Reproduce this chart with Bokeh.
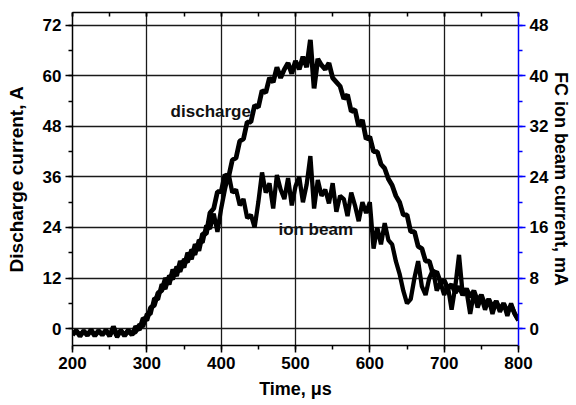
import numpy as np
from bokeh.plotting import figure
from bokeh.models import (Range1d, LinearAxis, SingleIntervalTicker, Label)
from bokeh.embed import file_html
from bokeh.resources import INLINE

# Time axis, microseconds (sampled every 5 us)
time_us = np.arange(200, 801, 5)

# Discharge current, A (noise band included)
discharge_A = [
    -1.5, -0.5, -1.8, -0.6, -1.6, -0.4, -1.7, -0.5, -1.5, -0.3,
    -1.8, 0.5, -1.6, -0.4, -1.7, -0.5, -1.5, 0.5, -0.3, 2.5,
    2, 5, 5.5, 8.5, 9, 12, 10.5, 14, 12.5, 16,
    14.5, 18, 16.5, 20, 18.5, 22.5, 22.5, 27.5, 28.5, 32.5,
    32.5, 36.5, 36, 40, 40.5, 44.5, 45, 49, 49, 53,
    52.5, 56.5, 56, 59.5, 58.5, 62, 59.5, 61.5, 63, 60.5,
    63.5, 61.5, 64.5, 62, 68.5, 57, 64, 62.5, 61.5, 63,
    59.5, 58.5, 57.5, 54.5, 55.5, 51.5, 52, 48, 49.5, 45,
    45.5, 42, 42, 39, 38, 35.5, 34, 31.5, 30, 27,
    27, 23, 23, 19.5, 19, 16, 16, 13, 13.5, 11,
    11.5, 9.5, 10.5, 8.5, 10, 8, 9.5, 7.5, 9, 6.5,
    8, 5.5, 7, 5, 6.5, 4.5, 6, 4, 5.5, 3.5,
    2,
]

# FC ion beam current, mA (noise band included)
ion_beam_mA = [
    -0.87, -0.27, -1.0, -0.33, -0.93, -0.13, -1.07, -0.33, -0.87, -0.4,
    -1.0, -0.13, -1.33, -0.33, -0.93, -0.2, -0.8, -0.53, 0.67, 0.33,
    2.3, 2.3, 4.8, 4.6, 7.0, 6.3, 8.4, 7.8, 9.8, 9.0,
    11.0, 10.5, 12.5, 11.7, 14.0, 13.6, 16.3, 15.8, 18.2, 15.3,
    19.0, 22.0, 24.5, 21.5, 22.0, 19.5, 20.5, 17.5, 18.0, 16.0,
    20.0, 24.7, 21.5, 23.0, 19.0, 24.3, 22.0, 20.5, 23.8, 19.5,
    22.5, 24.0, 20.0, 22.8, 27.3, 19.0, 23.5, 21.0, 22.0, 19.8,
    23.0, 18.5, 21.0, 20.5, 17.8, 21.5, 19.5, 17.0, 20.0, 18.3,
    20.0, 12.67, 16.0, 13.33, 16.67, 14.0, 13.33, 10.67, 8.67, 6.0,
    4.0, 4.67, 8.0, 10.67, 6.67, 5.33, 8.0, 9.33, 6.0, 7.33,
    5.33, 6.67, 3.0, 6.67, 11.67, 5.33, 6.0, 2.33, 5.67, 3.33,
    5.0, 3.0, 4.67, 2.33, 4.33, 2.67, 4.0, 2.0, 4.0, 2.33,
    1.33,
]

FONT = "Liberation Sans"
TICK_SIZE = "17px"

p = figure(width=576, height=405, x_range=Range1d(200, 800),
           y_range=Range1d(-4, 75), output_backend="svg",
           toolbar_location=None, x_axis_location=None, y_axis_location=None)
p.extra_y_ranges = {"fc": Range1d(-4 / 1.5, 75 / 1.5)}
p.min_border_left = 72
p.min_border_right = 58
p.min_border_top = 12
p.min_border_bottom = 60
p.outline_line_color = None
p.background_fill_color = "white"
p.border_fill_color = "white"

def style_axis(ax, color="black", title_size="18px"):
    ax.axis_line_color = color
    ax.axis_line_width = 1.5
    ax.major_tick_line_color = color
    ax.minor_tick_line_color = color
    ax.major_tick_line_width = 1.5
    ax.minor_tick_line_width = 1.5
    ax.major_tick_out = 7
    ax.major_tick_in = 0
    ax.minor_tick_out = 4
    ax.minor_tick_in = 0
    ax.major_label_text_font = FONT
    ax.major_label_text_font_style = "bold"
    ax.major_label_text_font_size = TICK_SIZE
    ax.major_label_text_color = "black"
    ax.major_label_standoff = 4
    ax.axis_label_text_font = FONT
    ax.axis_label_text_font_style = "bold"
    ax.axis_label_text_font_size = title_size
    ax.axis_label_text_color = "black"

xticker = SingleIntervalTicker(interval=100, num_minor_ticks=2)
yticker = SingleIntervalTicker(interval=12, num_minor_ticks=2)
rticker = SingleIntervalTicker(interval=8, num_minor_ticks=2)

xb = LinearAxis(ticker=xticker, axis_label="Time, \u03bcs")
style_axis(xb)
xb.axis_label_standoff = 7
xb.axis_label_text_baseline = "middle"
p.add_layout(xb, "below")

xt = LinearAxis(ticker=xticker)
style_axis(xt)
xt.major_tick_out = 0
xt.minor_tick_out = 0
xt.major_tick_in = 4
xt.minor_tick_in = 4
xt.major_label_text_font_size = "0px"
xt.major_label_text_color = None
p.add_layout(xt, "above")

yl = LinearAxis(ticker=yticker, axis_label="Discharge current, A")
style_axis(yl, title_size="19px")
yl.axis_label_standoff = 13
p.add_layout(yl, "left")

yr = LinearAxis(ticker=rticker, y_range_name="fc",
                axis_label="FC ion beam current, mA")
style_axis(yr, color="#0000ff")
yr.major_label_text_color = "black"
yr.axis_label_standoff = 0
yr.axis_label_text_baseline = "middle"
p.add_layout(yr, "right")

p.xgrid.ticker = xticker
p.ygrid.ticker = yticker
p.grid.grid_line_color = "#1a1a1a"
p.grid.grid_line_width = 1.3

p.line(time_us, discharge_A, line_color="black", line_width=4.8)
p.line(time_us, ion_beam_mA, line_color="black", line_width=4.3,
       y_range_name="fc")

p.add_layout(Label(x=332, y=51.6, text="discharge", text_font=FONT,
                   text_font_style="bold", text_font_size="17px",
                   text_color="#111111", text_baseline="alphabetic"))
p.add_layout(Label(x=477, y=23.6, text="ion beam", text_font=FONT,
                   text_font_style="bold", text_font_size="17px",
                   text_color="#111111", text_baseline="alphabetic"))

open("out.html", "w").write(file_html(p, INLINE))
